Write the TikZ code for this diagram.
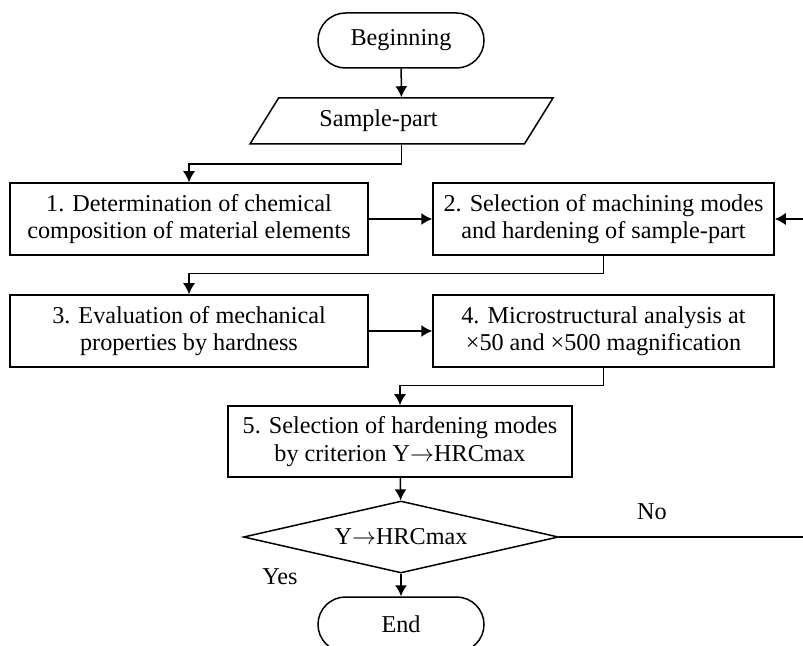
\documentclass[tikz,border=0pt]{standalone}
\usepackage{fontspec}
\setmainfont{Liberation Serif}
\usetikzlibrary{shapes.geometric,arrows.meta}

\begin{document}
\begin{tikzpicture}[x=0.5pt,y=-0.5pt,line width=0.75pt,
  font=\fontsize{12.1}{13.6}\selectfont,
  term/.style={draw,rounded corners=13.75pt,minimum width=83pt,minimum height=27.5pt},
  block/.style={draw,align=center,minimum height=36pt,inner sep=0pt},
  arr/.style={-{Latex[length=5.5pt,width=6pt]}}]
\clip (0,0) rectangle (803,646);

% start and input
\node[term] (begin) at (401,40.5) {Beginning};
\node[draw,trapezium,trapezium left angle=37.5,trapezium right angle=142.5,
  trapezium stretches body,minimum width=151.5pt,minimum height=23pt,inner sep=0pt]
  (sample) at (401.5,121) {Sample-part\hspace*{23pt}};

% steps
\node[block,minimum width=179pt] (box1) at (189,219) {1. Determination of chemical\\composition of material elements};
\node[block,minimum width=170.5pt] (box2) at (603.5,219) {2. Selection of machining modes\\and hardening of sample-part};
\node[block,minimum width=179pt] (box3) at (189,331) {3. Evaluation of mechanical\\properties by hardness};
\node[block,minimum width=170.5pt] (box4) at (603.5,331) {4. Microstructural analysis at\\×50 and ×500 magnification};
\node[block,minimum width=172pt,minimum height=35.5pt] (box5) at (400,441.5) {5. Selection of hardening modes\\by criterion Y$\rightarrow$HRCmax};

% decision and end
\node[draw,diamond,aspect=4.375,minimum width=157.5pt,minimum height=36pt,inner sep=0pt] (dec) at (401,537) {Y$\rightarrow$HRCmax};
\node[term] (end) at (401,624.5) {End};
\node (no) at (652,512) {No};
\node (yes) at (280,577) {Yes};
\coordinate (loop) at (820,219);

% connectors
\draw[arr] (begin) -- (sample);
\draw[arr] (sample.south) -- ++(0,19) -| (box1.north);
\draw[arr] (box1) -- (box2);
\draw[arr] (box2.south) -- ++(0,18) -| (box3.north);
\draw[arr] (box3) -- (box4);
\draw[arr] (box4.south) -- ++(0,18) -| (box5.north);
\draw[arr] (box5) -- (dec);
\draw[arr] (dec) -- (end);
\draw[arr] (dec.east) -| (loop) -- (box2.east);
\end{tikzpicture}
\end{document}
